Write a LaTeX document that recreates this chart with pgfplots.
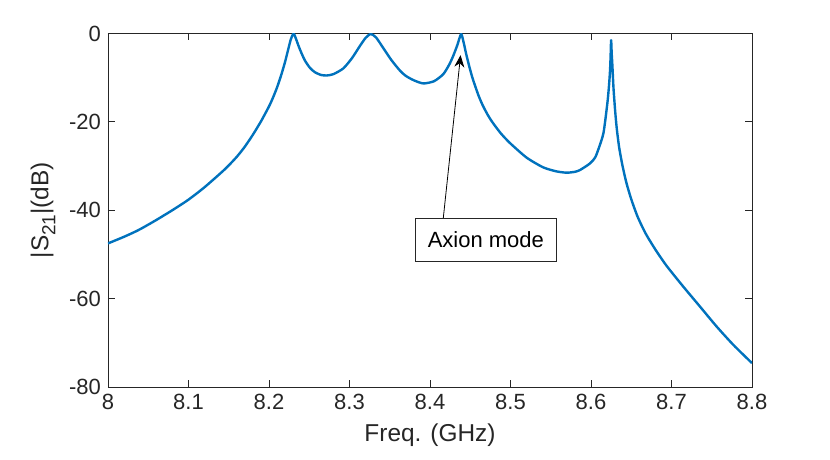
\documentclass[border=0pt]{standalone}
\usepackage{pgfplots}
\pgfplotsset{compat=1.18}
\usepackage{fontspec}
\setmainfont{Liberation Sans}
\usetikzlibrary{arrows.meta}
\definecolor{mblue}{rgb}{0,0.447,0.741}
\definecolor{axgray}{rgb}{0.15,0.15,0.15}
\begin{document}
\begin{tikzpicture}
\useasboundingbox (-54pt,-36.5pt) rectangle (361pt,193.5pt);
\begin{axis}[
  scale only axis, width=322pt, height=176.75pt,
  xmin=8, xmax=8.8, ymin=-80, ymax=0,
  xtick={8,8.1,8.2,8.3,8.4,8.5,8.6,8.7,8.8},
  ytick={-80,-60,-40,-20,0},
  xticklabels={8,8.1,8.2,8.3,8.4,8.5,8.6,8.7,8.8},
  tick align=inside, major tick length=3.3pt,
  axis line style={axgray, line width=0.4pt},
  every tick/.style={axgray, line width=0.4pt},
  tick label style={font=\fontsize{11}{13}\selectfont, text=axgray},
  /pgf/number format/assume math mode=true,
  label style={font=\fontsize{12.2}{14}\selectfont, text=axgray},
  xlabel={Freq. (GHz)},
  ylabel={|S\raisebox{-0.55ex}{\fontsize{9.5}{10}\selectfont 21}|(dB)},
  clip=true,
]
\addplot[mblue, line width=1.2pt, line join=round, smooth, tension=0.4] coordinates {
(8.000,-47.5) (8.020,-46.0) (8.0377,-44.5) (8.0563,-42.6) (8.079,-40.1)
(8.100,-37.6) (8.1205,-34.7) (8.1453,-30.7) (8.160,-27.9) (8.170,-25.6)
(8.180,-22.9) (8.190,-19.9) (8.200,-16.5) (8.205,-14.5) (8.210,-12.2)
(8.215,-9.5) (8.220,-6.4) (8.224,-3.5) (8.227,-1.4) (8.2305,0)
(8.2335,-1.2) (8.2367,-2.8) (8.2405,-4.5) (8.2449,-6.2) (8.2510,-7.8)
(8.2573,-8.8) (8.2650,-9.4) (8.2717,-9.5) (8.2800,-9.2) (8.2923,-7.9)
(8.3030,-5.6) (8.3130,-2.8) (8.3200,-1.0) (8.3263,-0.1) (8.3330,-0.9)
(8.3420,-3.3) (8.3520,-6.0) (8.3627,-8.4) (8.3700,-9.6) (8.3800,-10.6)
(8.3917,-11.3) (8.4050,-10.8) (8.4165,-9.2) (8.4240,-7.0) (8.4290,-5.0)
(8.4340,-2.6) (8.4387,-0.1) (8.4420,-2.2) (8.4449,-4.6) (8.4490,-7.6)
(8.4532,-10.3) (8.4600,-13.9) (8.4656,-16.3) (8.4720,-18.5) (8.4780,-20.2)
(8.4880,-22.6) (8.4994,-24.8) (8.5201,-28.1) (8.5407,-30.3) (8.5570,-31.2)
(8.5697,-31.5) (8.5800,-31.3) (8.5863,-30.9) (8.5988,-29.4) (8.6050,-28.1)
(8.6090,-26.3) (8.6155,-22.5) (8.6205,-15.5) (8.6225,-11.5) (8.6236,-8.5)
(8.6243,-5.5) (8.6250,-1.5) (8.6257,-4.5) (8.6265,-7.0) (8.6280,-12.5)
(8.6300,-17.5) (8.6320,-21.5) (8.6350,-25.8) (8.6390,-29.8) (8.6440,-33.8)
(8.6500,-37.5) (8.6580,-41.5) (8.6680,-45.3) (8.6800,-48.9) (8.6940,-52.6)
(8.7147,-57.3) (8.7354,-61.8) (8.7560,-66.3) (8.7770,-70.5) (8.8000,-74.6)
};
\draw[black, line width=0.4pt, -{Stealth[length=6pt,width=5pt]}] (axis cs:8.4165,-41.8) -- (axis cs:8.438,-4.9);
\node[draw=axgray, line width=0.5pt, fill=white, minimum width=70.8pt, minimum height=21.7pt, inner sep=0pt,
  font=\fontsize{11}{13}\selectfont] at (axis cs:8.4694,-46.7) {Axion mode};
\end{axis}
\end{tikzpicture}
\end{document}
